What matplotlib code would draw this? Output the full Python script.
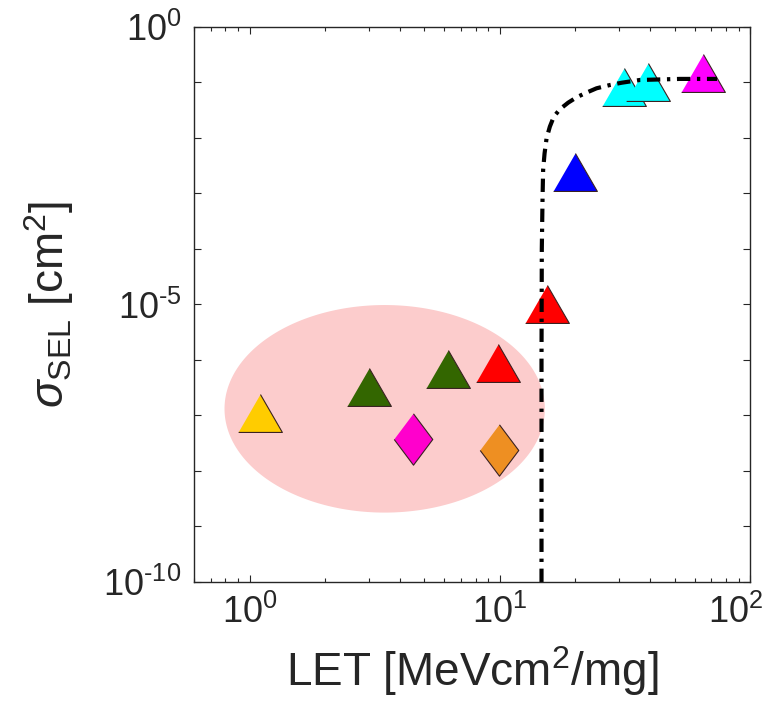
import numpy as np
import matplotlib
matplotlib.use('Agg')
import matplotlib.pyplot as plt
import matplotlib.transforms as mtransforms
from matplotlib.ticker import FixedLocator, LogLocator, NullFormatter, FuncFormatter

plt.rcParams['font.family'] = ['Liberation Sans', 'DejaVu Sans']
plt.rcParams['mathtext.fontset'] = 'custom'
plt.rcParams['mathtext.rm'] = 'Liberation Sans'
plt.rcParams['mathtext.it'] = 'Liberation Sans:italic'
plt.rcParams['mathtext.default'] = 'regular'

# measured points, triangles
let_tri = [1.1, 3.0, 6.2, 9.8, 15.4, 20.0, 31.5, 39.0, 65.0]
sig_tri = [1.1e-7, 3.2e-7, 7.0e-7, 8.8e-7, 1.0e-5, 2.4e-3, 0.083, 0.10, 0.147]
col_tri = ['#ffcc00', '#336600', '#336600', '#ff0000', '#ff0000',
           '#0000ff', '#00ffff', '#00ffff', '#ff00ff']

# measured points, diamonds
let_dia = [4.5, 9.9]
sig_dia = [3.8e-8, 2.4e-8]
col_dia = ['#ff00cc', '#ee8f22']

# fit curve
fit_let = [14.68, 14.68, 14.72, 14.82, 14.90, 15.10, 15.38, 15.85, 16.44,
           17.38, 18.76, 20.27, 21.88, 24.36, 27.54, 30.68, 36.3, 52.5, 73.8]
fit_sig = [1e-10, 1e-6, 1e-4, 8.2e-4, 2.65e-3, 5.3e-3, 9.9e-3, 0.016, 0.0242,
           0.0329, 0.0433, 0.054, 0.0638, 0.0786, 0.090, 0.099, 0.111, 0.116, 0.116]

# highlighted region (centre / half-axes in decades)
ell_cx, ell_cy = 0.54, -6.88
ell_rx, ell_ry = 0.64, 1.87

fig = plt.figure(figsize=(7.77, 7.16), dpi=100)
ax = fig.add_axes([0.2497, 0.1872, 0.9653 - 0.2497, 0.9623 - 0.1872])
ax.set_xscale('log')
ax.set_yscale('log')

t = np.linspace(0, 2 * np.pi, 300)
ax.fill(10 ** (ell_cx + ell_rx * np.cos(t)), 10 ** (ell_cy + ell_ry * np.sin(t)),
        color='#fccccc', lw=0, zorder=1)

tri = [(-1, -0.866), (1, -0.866), (0, 0.866)]
dia = [(0, 1), (0.75, 0), (0, -1), (-0.75, 0)]
edge = '#3a2222'
for x, y, c in zip(let_tri, sig_tri, col_tri):
    ax.plot(x, y, marker=tri, ms=31.5, mfc=c, mec=edge, mew=0.8, ls='none', zorder=2)
for x, y, c in zip(let_dia, sig_dia, col_dia):
    ax.plot(x, y, marker=dia, ms=37, mfc=c, mec=edge, mew=0.8, ls='none', zorder=2)

ax.plot(fit_let, fit_sig, color='k', lw=3, ls=(0, (3.2, 1.6, 0.8, 1.6)),
        dash_capstyle='butt', zorder=3)

ax.set_xlim(0.6, 100)
ax.set_ylim(1e-10, 1)


def pow10(v, pos):
    e = int(round(np.log10(v)))
    return r'10$^{%s}$' % str(e).replace('-', '\u2010')


ax.xaxis.set_major_locator(FixedLocator([1, 10, 100]))
ax.xaxis.set_minor_locator(LogLocator(base=10, subs=np.arange(2, 10), numticks=20))
ax.xaxis.set_minor_formatter(NullFormatter())
ax.xaxis.set_major_formatter(FuncFormatter(pow10))

ax.yaxis.set_major_locator(FixedLocator([1e-10, 1e-5, 1]))
ax.yaxis.set_minor_locator(FixedLocator([10.0 ** k for k in range(-10, 1)]))
ax.yaxis.set_minor_formatter(NullFormatter())
ax.yaxis.set_major_formatter(FuncFormatter(pow10))

dark = '#262626'
for s in ax.spines.values():
    s.set_color(dark)
    s.set_linewidth(1.0)
ax.tick_params(which='both', direction='in', top=True, right=True, colors=dark,
               labelsize=26, labelcolor=dark)
ax.tick_params(which='major', length=5, width=0.8, pad=9)
ax.tick_params(which='minor', length=3, width=0.8)
ax.tick_params(axis='y', which='minor', length=5)

# keep the last x label inside the figure
last = ax.xaxis.get_major_ticks()[-1].label1
last.set_transform(last.get_transform() +
                   mtransforms.ScaledTranslation(-14 / 100, 0, fig.dpi_scale_trans))

ax.set_xlabel(r'LET [MeVcm$^2$/mg]', fontsize=33, color=dark, labelpad=10)
ax.set_ylabel(r'$\mathit{\sigma}_{SEL}$ [cm$^2$]', fontsize=33, color=dark, labelpad=20)

fig.savefig('out.png', dpi=100)
